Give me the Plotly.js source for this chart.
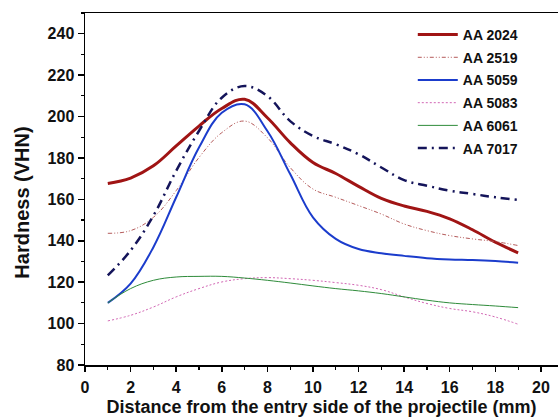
<!DOCTYPE html>
<html>
<head>
<meta charset="utf-8">
<script src="https://cdn.plot.ly/plotly-3.0.1.min.js"></script>
<style>html,body{margin:0;padding:0;background:#fff;}#chart{width:558px;height:417px;}</style>
</head>
<body>
<div id="chart"></div>
<script>
const distance = [1,2,3,4,5,6,7,8,9,10,11,12,13,14,15,16,17,18,19];
const aa2024 = [167.7,170.3,176.2,185.8,195.4,203.9,208.3,199.4,187.4,177.8,172.5,166.3,160.5,156.8,154.2,150.6,145.3,139.3,134.2];
const aa2519 = [143.6,144.9,151.3,164.2,180.2,192.2,197.8,189.8,175.4,165.0,161.0,157.0,152.9,148.1,144.9,142.5,140.9,139.6,137.7];
const aa5059 = [110.0,119.3,136.9,161.0,185.0,201.8,205.9,193.0,172.2,151.3,140.9,136.0,134.0,132.7,131.6,131.0,130.7,130.2,129.4];
const aa5083 = [101.3,104.0,108.0,112.9,116.9,120.1,121.7,122.2,121.7,120.9,119.8,118.5,116.4,112.9,109.7,107.3,105.7,103.2,99.7];
const aa6061 = [110.0,116.9,120.9,122.5,122.8,122.8,122.0,120.9,119.6,118.2,116.9,115.8,114.5,112.9,111.3,110.0,109.2,108.5,107.7];
const aa7017 = [123.3,135.3,152.1,173.8,193.0,209.1,214.7,209.9,197.8,190.6,186.6,181.8,175.4,169.3,166.6,164.2,162.6,161.0,159.7];
const seriesNames = ["AA 2024","AA 2519","AA 5059","AA 5083","AA 6061","AA 7017"];

const styles = [
  {color:"#a01414", width:3, dash:"solid"},
  {color:"#b45a5a", width:1, dash:"4px,2px,1px,2px,1px,2px"},
  {color:"#1b3ccc", width:2, dash:"solid"},
  {color:"#d266b4", width:1, dash:"2px,2px"},
  {color:"#2e8b3a", width:1, dash:"solid"},
  {color:"#14145a", width:2.5, dash:"9px,5px,2px,5px"}
];
const values = [aa2024, aa2519, aa5059, aa5083, aa6061, aa7017];

const traces = values.map((v,i)=>({
  x: distance, y: v, name: seriesNames[i], legendgroup:"g"+i, type:"scatter", mode:"lines",
  line:{color:styles[i].color, width:styles[i].width, dash:styles[i].dash, shape:"spline", smoothing:1.1}
}));

const font = "Liberation Sans, Arial, sans-serif";
const layout = {
  width:558, height:417,
  margin:{l:85, r:0, t:13, b:52},
  paper_bgcolor:"#fff", plot_bgcolor:"#fff",
  showlegend:true,
  legend:{x:0.693, xanchor:"left", y:0.983, yanchor:"top", bgcolor:"rgba(255,255,255,0.9)",
    traceorder:"grouped", tracegroupgap:1.5,
    font:{family:font, size:14, color:"#111", weight:"bold"}, itemwidth:40, borderwidth:0},
  xaxis:{range:[0,20.75], showgrid:false, zeroline:false, showline:true, linecolor:"#000", linewidth:1.5, mirror:true,
    ticks:"outside", ticklen:5, tickwidth:1.5, tickcolor:"#000", dtick:2, tick0:0,
    minor:{ticks:"outside", ticklen:3, tickwidth:1.2, tickcolor:"#000", dtick:1},
    ticklabelstandoff:2,
    tickfont:{family:font, size:16, color:"#111", weight:"bold"},
    title:{text:"<b>Distance from the entry side of the projectile (mm)</b>", font:{family:font, size:18, color:"#111"}, standoff:6}},
  yaxis:{range:[80,250], showgrid:false, zeroline:false, showline:true, linecolor:"#000", linewidth:1.5,
    ticks:"outside", ticklen:6, tickwidth:1.5, tickcolor:"#000", dtick:20, tick0:80,
    minor:{ticks:"outside", ticklen:3, tickwidth:1.2, tickcolor:"#000", dtick:10},
    tickfont:{family:font, size:16, color:"#111", weight:"bold"}},
  annotations:[{text:"<b>Hardness (VHN)</b>", xref:"paper", yref:"paper", x:-0.132, y:0.46, textangle:-90,
    showarrow:false, xanchor:"center", yanchor:"middle", font:{family:font, size:20, color:"#111"}}]
};
Plotly.newPlot("chart", traces, layout, {staticPlot:true, displayModeBar:false});
</script>
</body>
</html>
